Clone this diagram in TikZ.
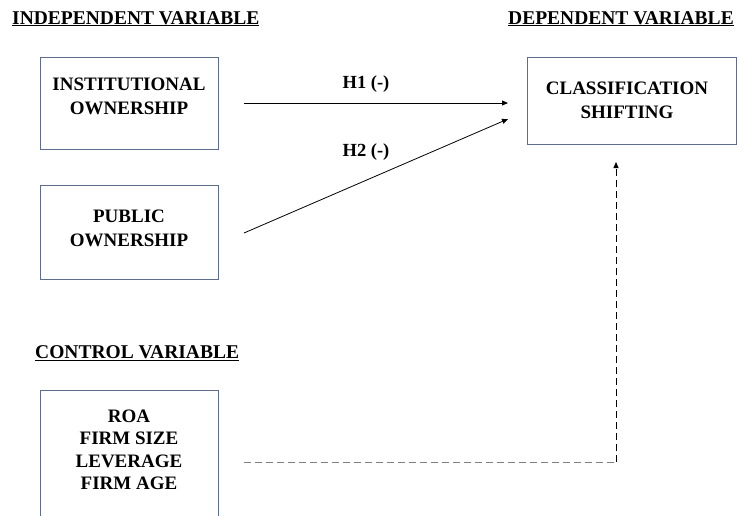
\documentclass[tikz,border=0pt]{standalone}
\usepackage{fontspec}
\setmainfont{Liberation Serif}
\usetikzlibrary{arrows.meta}
\definecolor{boxblue}{HTML}{5E6D8C}
\begin{document}
\begin{tikzpicture}[x=1pt,y=-1pt,
  lbl/.style={font=\bfseries\fontsize{19}{24}\selectfont, align=center, inner sep=0pt},
  hyp/.style={font=\bfseries\fontsize{18.5}{20}\selectfont, inner sep=0pt},
  head/.style={font=\bfseries\fontsize{19.5}{22}\selectfont, inner sep=0pt, anchor=base west},
  varbox/.style={draw=boxblue, line width=0.9pt, minimum width=178pt, inner sep=0pt},
  arr/.style={line width=0.8pt, -{Triangle[length=6pt,width=5pt]}}]
\path[use as bounding box, clip] (0,0) rectangle (737,515);
\fill[white] (0,0) rectangle (737,515);
% headings
\node[head] (hind) at (12,24) {\underline{INDEPENDENT VARIABLE}};
\node[head] (hdep) at (508,24) {\underline{DEPENDENT VARIABLE}};
\node[head] (hctl) at (35,358) {\underline{CONTROL VARIABLE}};
% boxes
\node[varbox, minimum height=92pt] (inst) at (129,103) {};
\node[lbl] (instt) at (129,96) {INSTITUTIONAL\\OWNERSHIP};
\node[varbox, minimum height=94pt] (pub) at (129,232) {};
\node[lbl] (pubt) at (129,228) {PUBLIC\\OWNERSHIP};
\node[varbox, minimum width=209pt, minimum height=87pt] (cls) at (631.5,100.5) {};
\node[lbl] (clst) at (627,100) {CLASSIFICATION\\SHIFTING};
% control box (open at the bottom, cut by the page edge)
\draw[boxblue, line width=0.9pt] (40,530) -- (40,390) -- (218,390) -- (218,530);
\node[lbl, font=\bfseries\fontsize{19}{22.5}\selectfont] (ctl) at (129,450) {ROA\\FIRM SIZE\\LEVERAGE\\FIRM AGE};
% connectors
\coordinate (s1) at (244,103);
\coordinate (e1) at (508,103);
\coordinate (s2) at (244,233);
\coordinate (e2) at (508,119);
\coordinate (s3) at (244,462);
\coordinate (c3) at (616,462);
\coordinate (e3) at (616,162);
\draw[arr] (s1) -- (e1);
\node[hyp] (h1) at (366,84) {H1 (-)};
\draw[arr] (s2) -- (e2);
\node[hyp] (h2) at (366,152) {H2 (-)};
\draw[gray, line width=0.9pt, dash pattern=on 7pt off 4pt] (s3) -- (c3);
\draw[line width=0.8pt, dash pattern=on 7pt off 4pt, -{Triangle[length=6pt,width=5pt]}] (c3) -- (e3);
\end{tikzpicture}
\end{document}
